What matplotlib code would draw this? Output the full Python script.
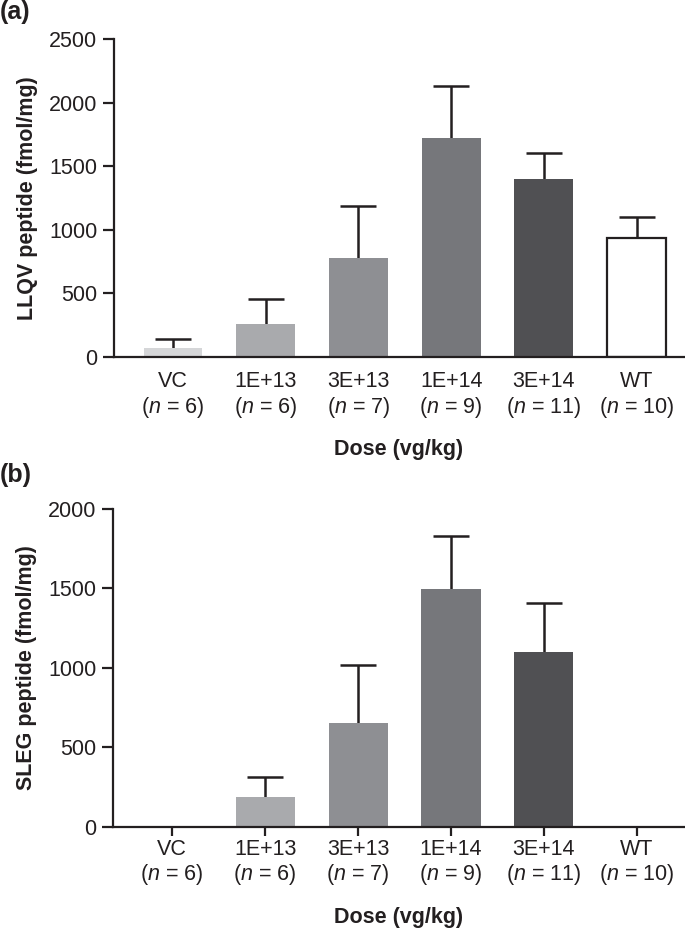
import numpy as np
import matplotlib
matplotlib.use("Agg")
import matplotlib.pyplot as plt

plt.rcParams['font.family'] = ['Liberation Sans', 'DejaVu Sans']
plt.rcParams['mathtext.fontset'] = 'custom'
plt.rcParams['mathtext.it'] = 'Liberation Sans:italic'
plt.rcParams['mathtext.rm'] = 'Liberation Sans'

# данные
doses = ['VC', '1E+13', '3E+13', '1E+14', '3E+14', 'WT']
n_values = [6, 6, 7, 9, 11, 10]
llqv_mean = [73, 259, 776, 1719, 1399, 933]
llqv_err = [71, 199, 414, 414, 202, 165]
sleg_mean = [0, 191, 656, 1495, 1103, 0]
sleg_err = [0, 122, 365, 333, 308, 0]
bar_colors = ['#d5d6d8', '#a9aaad', '#8e8f93', '#76777b', '#505053', '#ffffff']

ink = '#231f20'
fs = 15.5
tick_labels = [f"{d}\n($n$ = {n})" for d, n in zip(doses, n_values)]

fig = plt.figure(figsize=(6.85, 9.32), dpi=100)
ax_a = fig.add_axes([0.1664, 0.617, 0.832, 0.3412])
ax_b = fig.add_axes([0.1650, 0.1127, 0.834, 0.3412])


def draw_panel(ax, means, errs, ylim, yticks, ylabel, show_xticks):
    x = np.arange(len(doses))
    for i in range(len(doses)):
        if means[i] <= 0:
            continue
        white = bar_colors[i] == '#ffffff'
        ax.bar(x[i], means[i], width=0.635, color=bar_colors[i],
               edgecolor=ink if white else bar_colors[i],
               linewidth=1.6 if white else 0, zorder=2)
        # ошибка только вверх, нижний колпачок прячем
        _, caps, _ = ax.errorbar(x[i], means[i], yerr=[[0], [errs[i]]], fmt='none',
                                 ecolor=ink, elinewidth=1.8, capsize=13,
                                 capthick=1.8, zorder=1)
        caps[0].set_visible(False)
    ax.set_xlim(-0.636, 5.51)
    ax.set_ylim(*ylim)
    ax.set_yticks(yticks)
    ax.set_xticks(x)
    ax.set_xticklabels(tick_labels, fontsize=fs, color=ink, linespacing=1.15)
    ax.tick_params(axis='y', labelsize=fs, colors=ink, length=8, width=1.6, pad=4)
    if show_xticks:
        ax.tick_params(axis='x', colors=ink, length=6.5, width=1.6, pad=2)
    else:
        ax.tick_params(axis='x', colors=ink, length=0, pad=10)
    for s in ['top', 'right']:
        ax.spines[s].set_visible(False)
    for s in ['left', 'bottom']:
        ax.spines[s].set_linewidth(1.6)
        ax.spines[s].set_color(ink)
    ax.set_ylabel(ylabel, fontsize=fs, fontweight='bold', color=ink, labelpad=8)
    ax.set_xlabel('Dose (vg/kg)', fontsize=fs, fontweight='bold', color=ink, labelpad=14)


draw_panel(ax_a, llqv_mean, llqv_err, (0, 2500), [0, 500, 1000, 1500, 2000, 2500],
           'LLQV peptide (fmol/mg)', False)
draw_panel(ax_b, sleg_mean, sleg_err, (0, 2000), [0, 500, 1000, 1500, 2000],
           'SLEG peptide (fmol/mg)', True)

fig.text(0.0, 1.0, '(a)', fontsize=18, fontweight='bold', color=ink, va='top', ha='left')
fig.text(0.0, 1 - 463 / 932, '(b)', fontsize=18, fontweight='bold', color=ink,
         va='top', ha='left')

fig.savefig('out.png', dpi=100)
